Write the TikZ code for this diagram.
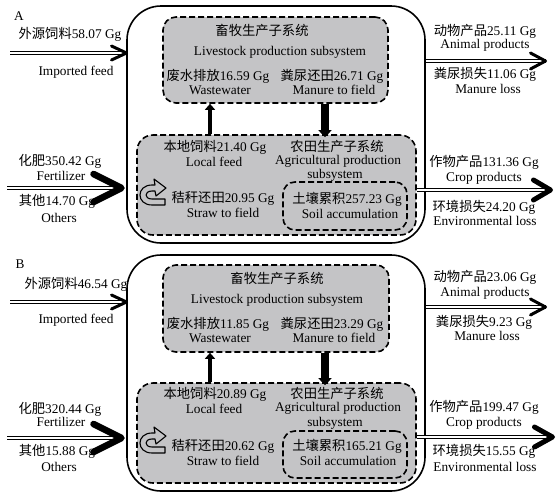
\documentclass[tikz,border=0pt]{standalone}
\usepackage{fontspec}
\setmainfont{Liberation Serif}
\newfontfamily\cjk{Noto Sans CJK SC}
\usetikzlibrary{arrows.meta}
\definecolor{boxgray}{RGB}{196,196,198}
\tikzset{
  outbox/.style={draw, line width=1.6pt, rounded corners=34pt, inner sep=0pt, minimum width=298pt},
  subbox/.style={draw, fill=boxgray, line width=1.6pt, dash pattern=on 6pt off 3pt, inner sep=0pt},
  lbl/.style={inner sep=0pt, text height=10pt, text depth=3pt, font=\fontsize{13.3}{15}\selectfont},
  dbl/.style={double, double distance=2pt, line width=1.1pt},
  chev/.style={line join=round, line cap=round},
  upthin/.style={line width=4pt, -{Triangle[width=10pt,length=6pt]}},
  downthick/.style={line width=7.5pt, -{Triangle[width=13pt,length=7pt]}, shorten >=-3pt},
  strawicon/.style={line width=1.1pt, line join=round}
}
\begin{document}
\begin{tikzpicture}[x=1pt,y=-1pt]
\useasboundingbox (0,0) rectangle (560,496);
% ================= Panel A =================
\node[outbox, minimum height=237pt] (outA) at (276,124.5) {};
\node[subbox, rounded corners=13pt, minimum width=225pt, minimum height=86pt] (liveA) at (275.5,60) {};
\node[subbox, rounded corners=16pt, minimum width=279pt, minimum height=100pt] (agriA) at (276.5,185) {};
\node[subbox, rounded corners=12pt, minimum width=124pt, minimum height=48pt] (soilA) at (345,206) {};
% inputs / outputs
\coordinate (feedAs) at (10,53);
\coordinate (feedAt) at (126.5,53);
\draw[dbl] (feedAs) -- (feedAs -| outA.west);
\draw[chev, line width=3pt] (feedAt) ++(-15,-7) -- (feedAt) -- ++(-15,7);
\coordinate (fertAs) at (7,188);
\coordinate (fertAt) at (121.5,188);
\draw[dbl] (fertAs) -- (fertAt);
\draw[chev, line width=6.5pt] (fertAt) ++(-28,-14) -- (fertAt) -- ++(-28,14);
\coordinate (animAe) at (545.5,61);
\draw[dbl] (outA.east |- animAe) -- (animAe);
\draw[chev, line width=3pt] (animAe) ++(-15,-8) -- (animAe) -- ++(-15,8);
\coordinate (cropAe) at (550.5,190);
\draw[dbl] (agriA.east |- cropAe) -- (cropAe);
\draw[chev, line width=5pt] (cropAe) ++(-17,-10) -- (cropAe) -- ++(-17,10);
% internal flows
\coordinate (wxA) at (210,0);
\coordinate (mxA) at (325,0);
\draw[upthin] (agriA.north -| wxA) -- (liveA.south -| wxA);
\draw[downthick] (liveA.south -| mxA) -- (agriA.north -| mxA);
% straw icon
\draw[strawicon] (165,205) -- (152,205) .. controls (136,205) and (136,185) .. (152,185) -- (155,185) -- (154,179) -- (166,188) -- (156,196) -- (155,191) -- (152,191) .. controls (144,191) and (144,199) .. (152,199) -- (165,199) -- cycle;
% texts
\node[lbl] (labA) at (19,17) {A};
\node[lbl] (tA1) at (70,35) {{\cjk 外源饲料}58.07 Gg};
\node[lbl] (tA2) at (76,72) {Imported feed};
\node[lbl] (tA3) at (262,32) {\cjk 畜牧生产子系统};
\node[lbl] (tA4) at (280,52) {Livestock production subsystem};
\node[lbl] (tA5) at (218,77) {{\cjk 废水排放}16.59 Gg};
\node[lbl] (tA6) at (220,91) {Wastewater};
\node[lbl] (tA7) at (332,77) {{\cjk 粪尿还田}26.71 Gg};
\node[lbl] (tA8) at (334,91) {Manure to field};
\node[lbl] (tA9) at (215,148) {{\cjk 本地饲料}21.40 Gg};
\node[lbl] (tA10) at (214,163) {Local feed};
\node[lbl] (tA11) at (337,148) {\cjk 农田生产子系统};
\node[lbl] (tA12) at (338,161) {Agricultural production};
\node[lbl] (tA13) at (335,175) {subsystem};
\node[lbl] (tA14) at (223,199) {{\cjk 秸秆还田}20.95 Gg};
\node[lbl] (tA15) at (223,214) {Straw to field};
\node[lbl] (tA16) at (347,200) {{\cjk 土壤累积}257.23 Gg};
\node[lbl] (tA17) at (350,215) {Soil accumulation};
\node[lbl] (tA18) at (60,162) {{\cjk 化肥}350.42 Gg};
\node[lbl] (tA19) at (61,177) {Fertilizer};
\node[lbl] (tA20) at (57,202) {{\cjk 其他}14.70 Gg};
\node[lbl] (tA21) at (59,219) {Others};
\node[lbl] (tA22) at (485,32) {{\cjk 动物产品}25.11 Gg};
\node[lbl] (tA23) at (485,45) {Animal products};
\node[lbl] (tA24) at (485,75) {{\cjk 粪尿损失}11.06 Gg};
\node[lbl] (tA25) at (488,90) {Manure loss};
\node[lbl] (tA26) at (484,163) {{\cjk 作物产品}131.36 Gg};
\node[lbl] (tA27) at (484,178) {Crop products};
\node[lbl] (tA28) at (484,208) {{\cjk 环境损失}24.20 Gg};
\node[lbl] (tA29) at (485,222) {Environmental loss};
% ================= Panel B =================
\node[outbox, minimum height=236pt] (outB) at (276,373) {};
\node[subbox, rounded corners=13pt, minimum width=226pt, minimum height=87pt] (liveB) at (276,308.5) {};
\node[subbox, rounded corners=16pt, minimum width=279pt, minimum height=100pt] (agriB) at (276.5,433) {};
\node[subbox, rounded corners=12pt, minimum width=124pt, minimum height=47pt] (soilB) at (345,454.5) {};
\coordinate (feedBs) at (10,302);
\coordinate (feedBt) at (126.5,302);
\draw[dbl] (feedBs) -- (feedBs -| outB.west);
\draw[chev, line width=3pt] (feedBt) ++(-15,-7) -- (feedBt) -- ++(-15,7);
\coordinate (fertBs) at (7,438);
\coordinate (fertBt) at (121.5,438);
\draw[dbl] (fertBs) -- (fertBt);
\draw[chev, line width=6.5pt] (fertBt) ++(-28,-14) -- (fertBt) -- ++(-28,14);
\coordinate (animBe) at (545.5,307);
\draw[dbl] (outB.east |- animBe) -- (animBe);
\draw[chev, line width=3pt] (animBe) ++(-15,-8) -- (animBe) -- ++(-15,8);
\coordinate (cropBe) at (552.5,437);
\draw[dbl] (agriB.east |- cropBe) -- (cropBe);
\draw[chev, line width=5pt] (cropBe) ++(-18,-10) -- (cropBe) -- ++(-18,10);
\coordinate (wxB) at (210,0);
\coordinate (mxB) at (325,0);
\draw[upthin] (agriB.north -| wxB) -- (liveB.south -| wxB);
\draw[downthick] (liveB.south -| mxB) -- (agriB.north -| mxB);
\draw[strawicon] (165,453) -- (152,453) .. controls (136,453) and (136,433) .. (152,433) -- (155,433) -- (154,427) -- (166,436) -- (156,444) -- (155,439) -- (152,439) .. controls (144,439) and (144,447) .. (152,447) -- (165,447) -- cycle;
\node[lbl] (labB) at (20,265) {B};
\node[lbl] (tB1) at (76,285) {{\cjk 外源饲料}46.54 Gg};
\node[lbl] (tB2) at (76,320) {Imported feed};
\node[lbl] (tB3) at (277,280) {\cjk 畜牧生产子系统};
\node[lbl] (tB4) at (277,300) {Livestock production subsystem};
\node[lbl] (tB5) at (218,325) {{\cjk 废水排放}11.85 Gg};
\node[lbl] (tB6) at (220,339) {Wastewater};
\node[lbl] (tB7) at (332,325) {{\cjk 粪尿还田}23.29 Gg};
\node[lbl] (tB8) at (334,339) {Manure to field};
\node[lbl] (tB9) at (215,395) {{\cjk 本地饲料}20.89 Gg};
\node[lbl] (tB10) at (214,410) {Local feed};
\node[lbl] (tB11) at (337,395) {\cjk 农田生产子系统};
\node[lbl] (tB12) at (338,408) {Agricultural production};
\node[lbl] (tB13) at (335,423) {subsystem};
\node[lbl] (tB14) at (223,447) {{\cjk 秸秆还田}20.62 Gg};
\node[lbl] (tB15) at (223,462) {Straw to field};
\node[lbl] (tB16) at (347,447) {{\cjk 土壤累积}165.21 Gg};
\node[lbl] (tB17) at (348,462) {Soil accumulation};
\node[lbl] (tB18) at (60,410) {{\cjk 化肥}320.44 Gg};
\node[lbl] (tB19) at (61,423) {Fertilizer};
\node[lbl] (tB20) at (57,452) {{\cjk 其他}15.88 Gg};
\node[lbl] (tB21) at (59,468) {Others};
\node[lbl] (tB22) at (485,278) {{\cjk 动物产品}23.06 Gg};
\node[lbl] (tB23) at (485,293) {Animal products};
\node[lbl] (tB24) at (484,323) {{\cjk 粪尿损失}9.23 Gg};
\node[lbl] (tB25) at (487,337) {Manure loss};
\node[lbl] (tB26) at (484,408) {{\cjk 作物产品}199.47 Gg};
\node[lbl] (tB27) at (484,423) {Crop products};
\node[lbl] (tB28) at (484,452) {{\cjk 环境损失}15.55 Gg};
\node[lbl] (tB29) at (485,468) {Environmental loss};
\end{tikzpicture}
\end{document}
